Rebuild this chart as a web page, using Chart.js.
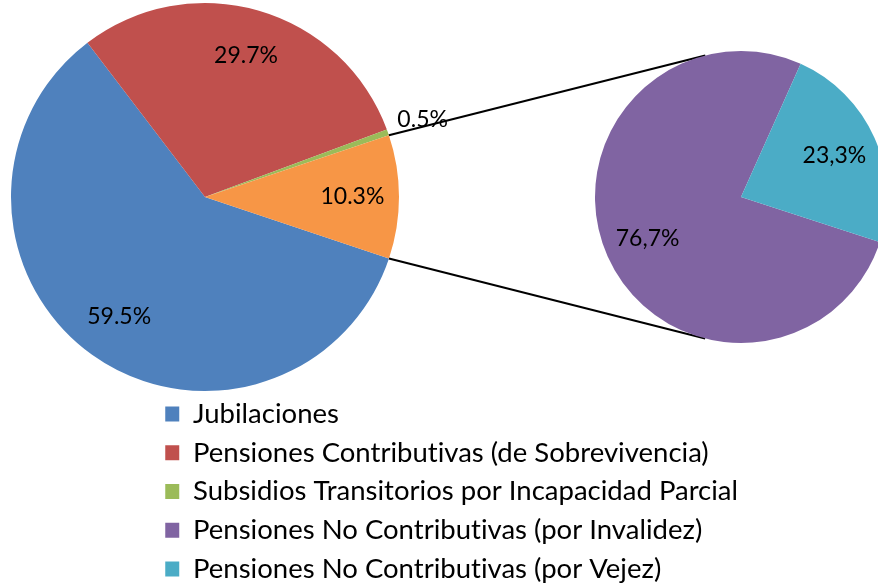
<!DOCTYPE html>
<html><head><meta charset="utf-8">
<script src="https://cdn.jsdelivr.net/npm/chart.js@4.4.0/dist/chart.umd.min.js"></script>
<style>
html,body{margin:0;padding:0;background:#fff;}
#wrap{position:relative;width:878px;height:587px;overflow:hidden;background:#fff;}
canvas{position:absolute;left:0;top:0;font-variant-ligatures:none;}
</style></head><body>
<div id="wrap"><canvas id="mainPie" width="878" height="587"></canvas><canvas id="subPie" width="878" height="587"></canvas><canvas id="legendBox" width="878" height="587"></canvas></div>
<script>
// ---- data ----
const mainCategories = ['Jubilaciones', 'Pensiones Contributivas (de Sobrevivencia)', 'Subsidios Transitorios por Incapacidad Parcial', 'Pensiones No Contributivas'];
const mainValues = [59.5, 29.7, 0.5, 10.3];
const mainColors = ['#4F81BD', '#C0504D', '#9BBB59', '#F79646'];
const subCategories = ['Pensiones No Contributivas (por Invalidez)', 'Pensiones No Contributivas (por Vejez)'];
const subValues = [76.7, 23.3];
const subColors = ['#8064A2', '#4BACC6'];
const legendCategories = mainCategories.slice(0, 3).concat(subCategories);
const legendColors = mainColors.slice(0, 3).concat(subColors);

const FONT = "Lato, 'Open Sans', sans-serif";

function makeLabelPlugin(id, fontSize, inside, outside, smallLimit, fmt) {
  return {
    id: id,
    afterDatasetsDraw(chart) {
      const meta = chart.getDatasetMeta(0);
      const vals = chart.data.datasets[0].data;
      const ctx = chart.ctx;
      ctx.save();
      ctx.font = fontSize + 'px ' + FONT;
      ctx.fillStyle = '#000';
      ctx.textAlign = 'center';
      ctx.textBaseline = 'middle';
      meta.data.forEach((arc, i) => {
        const p = arc.getProps(['x', 'y', 'startAngle', 'endAngle', 'outerRadius'], true);
        const mid = (p.startAngle + p.endAngle) / 2;
        const f = vals[i] < smallLimit ? outside : inside;
        ctx.fillText(fmt(vals[i]), p.x + Math.cos(mid) * p.outerRadius * f, p.y + Math.sin(mid) * p.outerRadius * f);
      });
      ctx.restore();
    }
  };
}

// turn off typographic ligatures (e.g. "ti") in canvas text
const noLigatures = {
  id: 'noLigatures',
  beforeDraw(chart) {
    const ctx = chart.ctx;
    if ('textRendering' in ctx) ctx.textRendering = 'optimizeSpeed';
    if ('letterSpacing' in ctx) ctx.letterSpacing = '0.01px';
  }
};

const mainChart = new Chart(document.getElementById('mainPie'), {
  type: 'pie',
  data: {
    labels: mainCategories,
    datasets: [{ data: mainValues, backgroundColor: mainColors, borderWidth: 0 }]
  },
  options: {
    responsive: false,
    animation: false,
    events: [],
    rotation: 108.5,
    layout: { padding: { left: 11, right: 479, top: 3, bottom: 196 } },
    plugins: { tooltip: { enabled: false }, legend: { display: false }, title: { display: false } }
  },
  plugins: [makeLabelPlugin('mainLabels', 23, 0.76, 1.19, 2, v => v.toFixed(1) + '%')]
});

const connectors = {
  id: 'connectors',
  beforeDatasetsDraw(chart) {
    const other = mainChart.getDatasetMeta(0).data[3];
    const o = other.getProps(['x', 'y', 'startAngle', 'endAngle', 'outerRadius'], true);
    const sub = chart.getDatasetMeta(0).data[0].getProps(['x', 'y', 'outerRadius'], true);
    const ctx = chart.ctx;
    const ends = [o.startAngle, o.endAngle].map(a => ({ x: o.x + Math.cos(a) * o.outerRadius, y: o.y + Math.sin(a) * o.outerRadius }));
    ctx.save();
    ctx.strokeStyle = '#000';
    ctx.lineWidth = 2;
    ends.forEach(P => {
      const dx = P.x - sub.x, dy = P.y - sub.y;
      const d = Math.hypot(dx, dy);
      const th = Math.atan2(dy, dx);
      const al = Math.acos(sub.outerRadius / d);
      const c = [th + al, th - al].map(a => ({ x: sub.x + Math.cos(a) * sub.outerRadius, y: sub.y + Math.sin(a) * sub.outerRadius }));
      const upper = P.y < o.y;
      const T = upper ? (c[0].y < c[1].y ? c[0] : c[1]) : (c[0].y > c[1].y ? c[0] : c[1]);
      ctx.beginPath();
      ctx.moveTo(P.x, P.y);
      ctx.lineTo(T.x, T.y);
      ctx.stroke();
    });
    ctx.restore();
  }
};

const subChart = new Chart(document.getElementById('subPie'), {
  type: 'pie',
  data: {
    labels: subCategories,
    datasets: [{ data: subValues, backgroundColor: subColors, borderWidth: 0, radius: 146, clip: false }]
  },
  options: {
    responsive: false,
    animation: false,
    events: [],
    rotation: 108,
    layout: { padding: { left: 604, right: 0, top: 51, bottom: 244 } },
    plugins: { tooltip: { enabled: false }, legend: { display: false }, title: { display: false } }
  },
  plugins: [connectors, makeLabelPlugin('subLabels', 23, 0.70, 1.2, 0, v => v.toFixed(1).replace('.', ',') + '%')]
});

// Shared legend for both pies (no marks of its own)
const legendChart = new Chart(document.getElementById('legendBox'), {
  type: 'pie',
  data: { labels: legendCategories, datasets: [] },
  options: {
    responsive: false,
    animation: false,
    events: [],
    layout: { padding: { left: 154, right: 100, top: 0, bottom: 0 } },
    plugins: {
      tooltip: { enabled: false },
      title: { display: false },
      legend: {
        display: true,
        position: 'bottom',
        align: 'start',
        maxHeight: 198,
        labels: {
          boxWidth: 14,
          boxHeight: 15,
          padding: 11.25,
          color: '#000',
          font: { family: FONT, size: 27.5 },
          generateLabels: () => legendCategories.map((t, i) => ({
            text: t, fillStyle: legendColors[i], strokeStyle: legendColors[i], lineWidth: 0, hidden: false, index: i
          }))
        }
      }
    }
  },
  plugins: [noLigatures]
});
</script>
</body></html>
